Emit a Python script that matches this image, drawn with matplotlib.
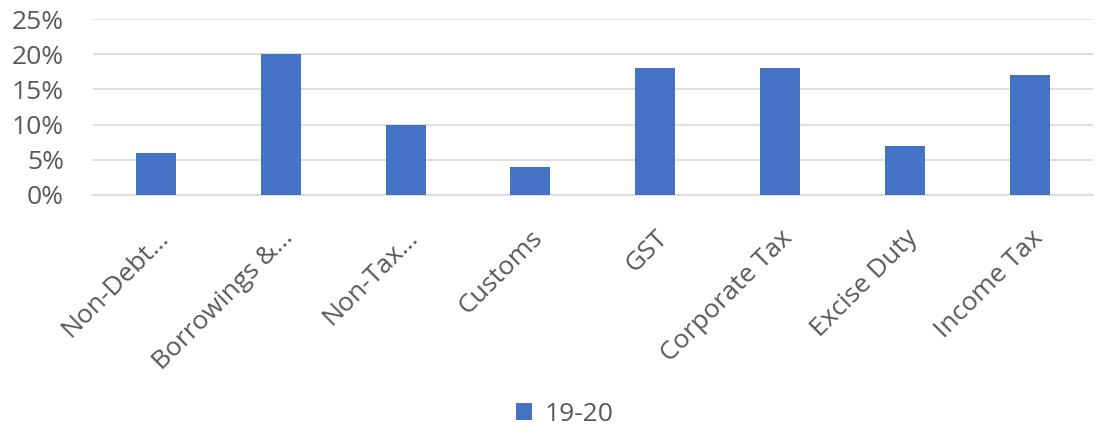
import matplotlib
matplotlib.use("Agg")
import matplotlib.pyplot as plt
from matplotlib.ticker import PercentFormatter

# Dane
kategorie = ["Non-Debt…", "Borrowings &…", "Non-Tax…", "Customs", "GST",
             "Corporate Tax", "Excise Duty", "Income Tax"]
udzial_19_20 = [6, 20, 10, 4, 18, 18, 7, 17]

plt.rcParams['font.family'] = ['Open Sans', 'DejaVu Sans']

fig = plt.figure(figsize=(10.97, 4.34), dpi=100)
ax = fig.add_axes([0.085, 0.5507, 0.911, 0.4053])

ax.bar(range(len(kategorie)), udzial_19_20, width=0.32, color='#4472C4',
       label='19-20', zorder=3)

ax.set_xlim(-0.5, len(kategorie) - 0.5)
ax.set_ylim(0, 25)
ax.set_yticks([0, 5, 10, 15, 20, 25])
ax.yaxis.set_major_formatter(PercentFormatter(decimals=0))
ax.grid(axis='y', color='#D9D9D9', linewidth=1.2, zorder=0)

for s in ['top', 'right', 'left']:
    ax.spines[s].set_visible(False)
ax.spines['bottom'].set_color('#D9D9D9')
ax.spines['bottom'].set_linewidth(1.2)

ax.set_xticks(range(len(kategorie)))
ax.set_xticklabels(kategorie, rotation=45, ha='right', rotation_mode='anchor')
ax.tick_params(axis='both', length=0, labelsize=19, colors='#595959')
ax.tick_params(axis='x', pad=22)
ax.tick_params(axis='y', pad=21)

fig.legend(loc='center', bbox_to_anchor=(0.515, 0.046), frameon=False,
           fontsize=19, labelcolor='#595959', handlelength=0.6,
           handleheight=0.6, handletextpad=0.5)

fig.savefig('out.png', dpi=100)
